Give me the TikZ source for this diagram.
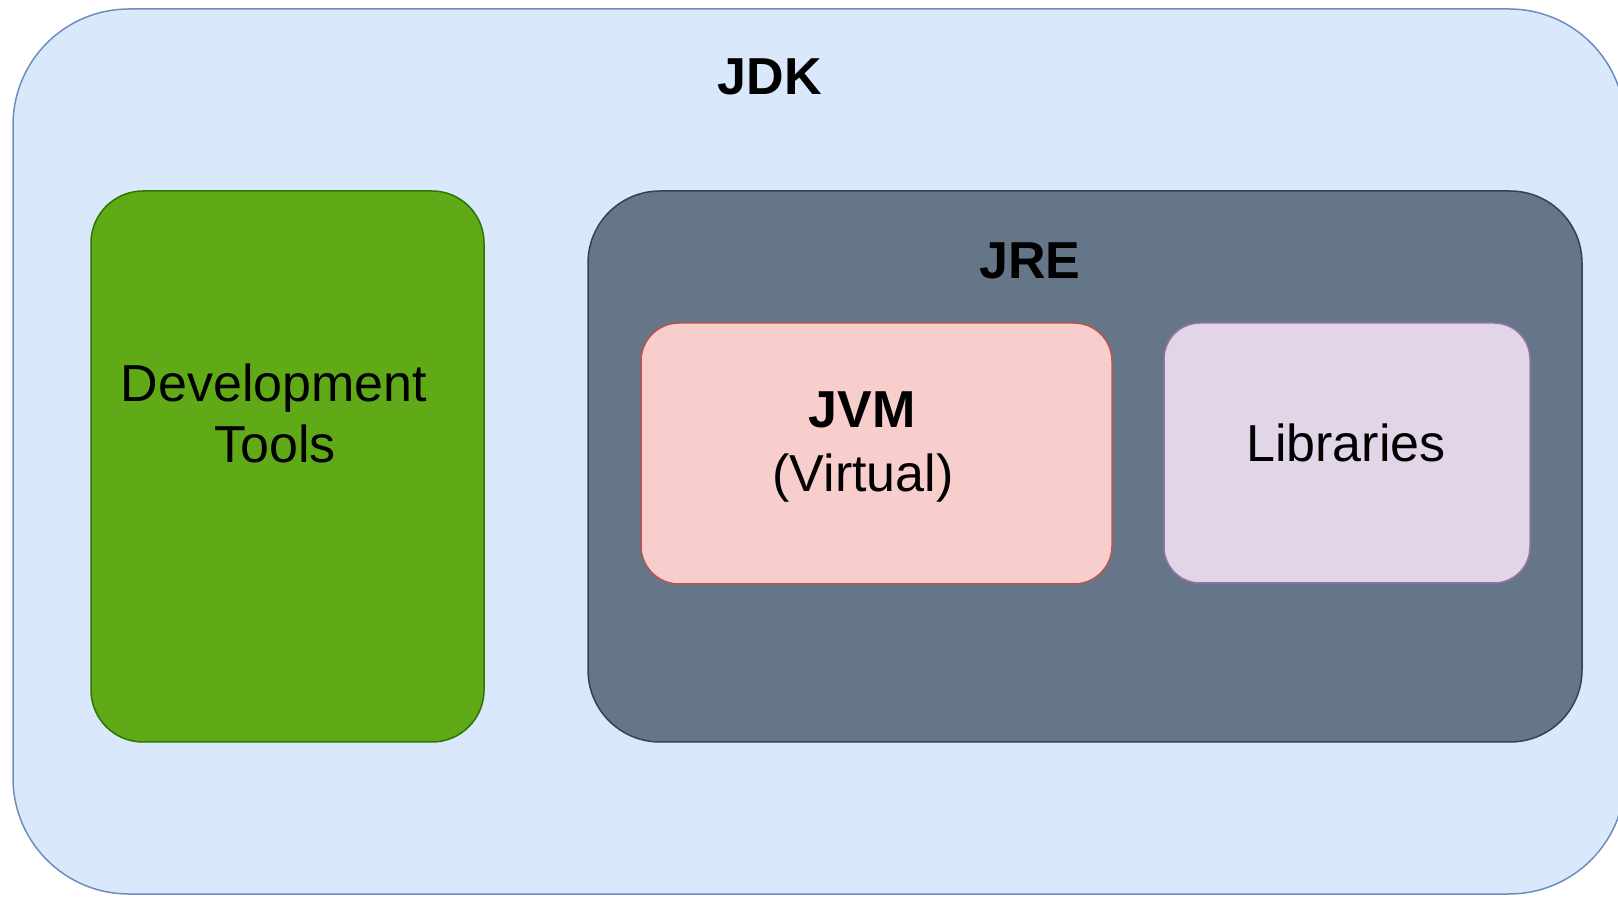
\documentclass[tikz,border=0pt]{standalone}
\usepackage{fontspec}
\setmainfont{Liberation Sans}
\definecolor{jdkfill}{HTML}{DAE8FC}
\definecolor{jdkdraw}{HTML}{6C8EBF}
\definecolor{devfill}{HTML}{60A917}
\definecolor{devdraw}{HTML}{2D7600}
\definecolor{jrefill}{HTML}{647687}
\definecolor{jredraw}{HTML}{314354}
\definecolor{jvmfill}{HTML}{F8CECC}
\definecolor{jvmdraw}{HTML}{B85450}
\definecolor{libfill}{HTML}{E1D5E7}
\definecolor{libdraw}{HTML}{9673A6}
\begin{document}
\begin{tikzpicture}[x=0.5pt,y=-0.5pt,
  box/.style={rectangle, draw, line width=0.75pt, inner sep=0pt},
  lbl/.style={anchor=base, inner sep=0pt, text=black, font=\fontsize{26}{31}\selectfont},
  blbl/.style={lbl, font=\fontsize{26}{31}\selectfont\bfseries}]
\useasboundingbox (0,0) rectangle (1618,897);
\node[box, fill=jdkfill, draw=jdkdraw, rounded corners=58pt, minimum width=806pt, minimum height=442.5pt] (jdk) at (819,451.5) {};
\node[box, fill=devfill, draw=devdraw, rounded corners=26pt, minimum width=196.5pt, minimum height=275.5pt] (dev) at (287.5,466.5) {};
\node[box, fill=jrefill, draw=jredraw, rounded corners=36pt, minimum width=497pt, minimum height=275.5pt] (jre) at (1085,466.5) {};
\node[box, fill=jvmfill, draw=jvmdraw, rounded corners=19pt, minimum width=235.5pt, minimum height=130.5pt] (jvm) at (876.5,453.5) {};
\node[box, fill=libfill, draw=libdraw, rounded corners=18pt, minimum width=183pt, minimum height=130pt] (lib) at (1347,453) {};
\node[blbl] (jdktext) at (770,95) {JDK};
\node[blbl] (jretext) at (1030,279) {JRE};
\node[blbl] (jvmtext) at (862,428) {JVM};
\node[lbl] (virttext) at (863,492) {(Virtual)};
\node[lbl] (devtext) at (274,402) {Development};
\node[lbl] (toolstext) at (275,463) {Tools};
\node[lbl] (libtext) at (1346,462) {Libraries};
\end{tikzpicture}
\end{document}
